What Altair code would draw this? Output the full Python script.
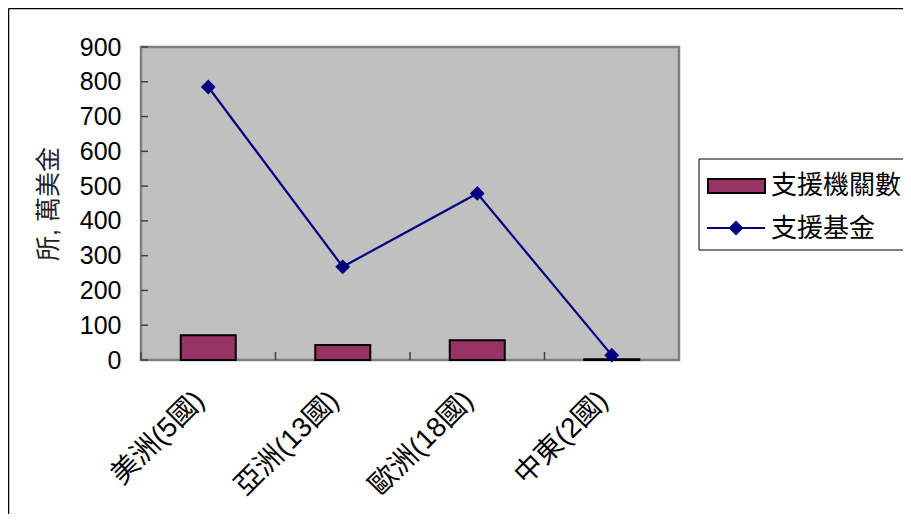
import altair as alt
import pandas as pd

categories = ["美洲(5國)", "亞洲(13國)", "歐洲(18國)", "中東(2國)"]
institutions = [71, 43, 57, 2]
funds = [785, 268, 479, 14]
y_ticks = [0, 100, 200, 300, 400, 500, 600, 700, 800, 900]
legend_labels = ["支援機關數", "支援基金"]
y_title = "所, 萬美金"

FONT = "Liberation Sans, Arial, Noto Sans CJK TC"
W, H = 538, 313

df = pd.DataFrame({"cat": categories, "inst": institutions, "fund": funds})
ticks_df = pd.DataFrame({"v": y_ticks})
one = pd.DataFrame({"a": [0]})

xscale = alt.Scale(domain=categories, paddingInner=0, paddingOuter=0)
yscale = alt.Scale(domain=[0, 900], nice=False, zero=True)

x_axis = alt.Axis(title=None, labelAngle=315, labelAlign="right",
                  labelBaseline="middle", labelPadding=36, labelOffset=-8,
                  labelFontSize=28, labelFont=FONT, labelColor="black",
                  labelOverlap=False, labelLimit=0,
                  domain=False, ticks=False, grid=False)
y_axis = alt.Axis(title=y_title, values=y_ticks, grid=False, domain=False,
                  ticks=False, labelPadding=20, labelFontSize=25,
                  labelOverlap=False, labelFlush=False,
                  labelFont=FONT, labelColor="black",
                  titleFont=FONT, titleFontSize=25, titleFontWeight="normal",
                  titleColor="#222222", titlePadding=18)

bars = alt.Chart(df).mark_bar(width=55, color="#993366", stroke="black",
                              strokeWidth=2).encode(
    x=alt.X("cat:N", sort=categories, scale=xscale, axis=x_axis),
    y=alt.Y("inst:Q", scale=yscale, axis=y_axis),
)

line = alt.Chart(df).mark_line(color="#000080", strokeWidth=2.2,
                               point=alt.OverlayMarkDef(shape="diamond", size=220,
                                                        filled=True, color="#000080")).encode(
    x=alt.X("cat:N", sort=categories, scale=xscale, axis=x_axis),
    y=alt.Y("fund:Q", scale=yscale, axis=y_axis),
)

ytick_marks = alt.Chart(ticks_df).mark_rule(color="#404040", strokeWidth=1.5).encode(
    y=alt.Y("v:Q", scale=yscale, axis=y_axis),
    x=alt.value(0), x2=alt.value(7),
)

xtick_marks = alt.Chart(df).mark_rule(color="#404040", strokeWidth=1.5).encode(
    x=alt.X("cat:N", sort=categories, scale=xscale, bandPosition=0, axis=x_axis),
    y=alt.value(H), y2=alt.value(H - 8),
)

# outer frame (top and left edges)
frame_top = alt.Chart(one).mark_rule(color="black", strokeWidth=1.5).encode(
    x=alt.value(-132.5), x2=alt.value(W + 240), y=alt.value(-38.5))
frame_left = alt.Chart(one).mark_rule(color="black", strokeWidth=1.5).encode(
    x=alt.value(-132.5), y=alt.value(-38.5), y2=alt.value(H + 160))

# legend
leg_box = alt.Chart(one).mark_rect(fill="white", stroke="black", strokeWidth=1).encode(
    x=alt.value(558), x2=alt.value(W + 250), y=alt.value(112), y2=alt.value(203))
leg_sym1 = alt.Chart(one).mark_rect(fill="#993366", stroke="black", strokeWidth=2).encode(
    x=alt.value(567), x2=alt.value(624), y=alt.value(132), y2=alt.value(146))
leg_line = alt.Chart(one).mark_rule(color="#000080", strokeWidth=2).encode(
    x=alt.value(566), x2=alt.value(624), y=alt.value(181))
leg_pt = alt.Chart(one).mark_point(shape="diamond", size=220, filled=True,
                                   color="#000080", opacity=1).encode(
    x=alt.value(595), y=alt.value(181))
leg_txt1 = alt.Chart(one).mark_text(align="left", baseline="middle", fontSize=26,
                                    font=FONT, color="black").encode(
    x=alt.value(630), y=alt.value(139), text=alt.value(legend_labels[0]))
leg_txt2 = alt.Chart(one).mark_text(align="left", baseline="middle", fontSize=26,
                                    font=FONT, color="black").encode(
    x=alt.value(630), y=alt.value(182), text=alt.value(legend_labels[1]))

chart = alt.layer(
    bars, line, ytick_marks, xtick_marks, frame_top, frame_left,
    leg_box, leg_sym1, leg_line, leg_pt, leg_txt1, leg_txt2,
).properties(
    width=W, height=H,
    autosize=alt.AutoSizeParams(type="none"),
    padding={"left": 133, "top": 39, "right": 224, "bottom": 154},
    background="white",
).configure_view(
    fill="#C0C0C0", stroke="#808080", strokeWidth=2.5,
)

chart.save("out.html", embed_options={"renderer": "svg", "actions": False})
